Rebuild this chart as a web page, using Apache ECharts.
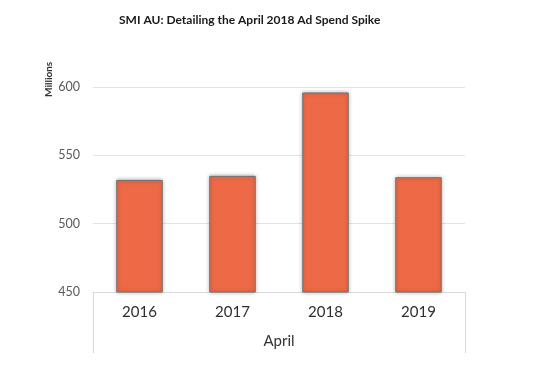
<!DOCTYPE html>
<html>
<head>
<meta charset="utf-8">
<script src="https://cdn.jsdelivr.net/npm/echarts@6/dist/echarts.min.js"></script>
<style>html,body{margin:0;padding:0;background:#fff;}#c{width:536px;height:367px;}</style>
</head>
<body>
<div id="c"></div>
<script>
const categories = ['2016', '2017', '2018', '2019'];
const values = [532, 535, 596, 534];
const yTicks = [450, 500, 550, 600];

const chart = echarts.init(document.getElementById('c'), null, {renderer: 'canvas'});
chart.setOption({
  animation: false,
  backgroundColor: '#ffffff',
  title: {
    text: 'SMI AU: Detailing the April 2018 Ad Spend Spike',
    left: 114, top: 9,
    textStyle: {fontFamily: 'Lato', fontSize: 12, fontWeight: 'bold', color: '#1a1a1a'}
  },
  grid: {left: 93, right: 71, top: 87, bottom: 75},
  xAxis: {
    type: 'category',
    data: categories,
    name: 'April',
    nameLocation: 'middle',
    nameGap: 42,
    nameTextStyle: {fontFamily: 'Lato', fontSize: 15, color: '#333333'},
    axisLine: {show: true, lineStyle: {color: '#d9d9d9', width: 1}},
    axisTick: {show: true, length: 61, interval: function (i) { return i === 0; }, lineStyle: {color: '#d9d9d9'}},
    axisLabel: {fontFamily: 'Lato', fontSize: 15, color: '#2e2e2e', margin: 13}
  },
  yAxis: {
    type: 'value',
    min: yTicks[0], max: yTicks[yTicks.length - 1], interval: 50,
    name: 'Millions',
    nameLocation: 'end',
    nameRotate: 90,
    nameGap: -10,
    nameMoveOverlap: false,
    nameTextStyle: {fontFamily: 'Lato', fontSize: 10, fontWeight: 'bold', color: '#333333', verticalAlign: 'bottom', lineHeight: 88},
    axisLine: {show: false},
    axisTick: {show: false},
    axisLabel: {fontFamily: 'Lato', fontSize: 12.5, color: '#595959', margin: 13},
    splitLine: {lineStyle: {color: '#e3e3e3', width: 1}}
  },
  series: [{
    type: 'bar',
    data: values,
    barWidth: '50%',
    itemStyle: {
      color: '#EE6946',
      borderColor: '#707070',
      borderWidth: 1,
      shadowBlur: 4,
      shadowColor: 'rgba(0,0,0,0.3)',
      shadowOffsetX: 0,
      shadowOffsetY: 0
    }
  }]
});
</script>
</body>
</html>
